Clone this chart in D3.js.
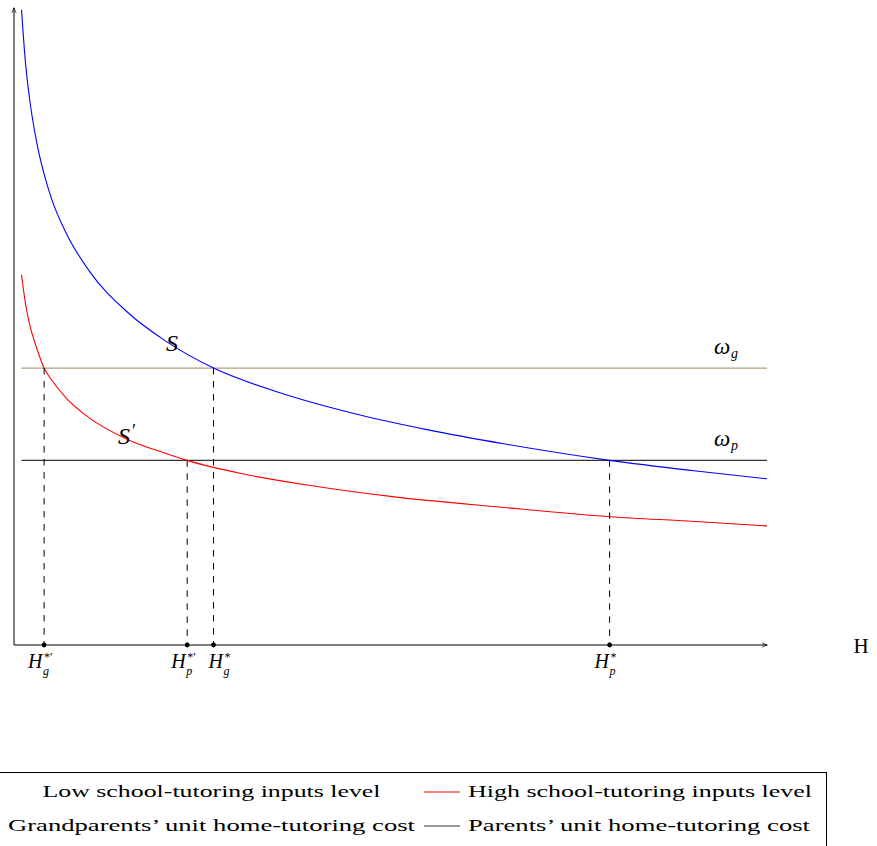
<!DOCTYPE html>
<html>
<head>
<meta charset="utf-8">
<script src="https://cdn.jsdelivr.net/npm/d3@7"></script>
<style>
  html, body { margin: 0; padding: 0; background: #fff; }
  svg { display: block; }
</style>
</head>
<body>
<svg id="chart" width="877" height="846"></svg>
<script>
// ---- data ----
const lowInputH = [0.10, 0.15, 0.20, 0.30, 0.40, 0.50, 0.70, 1.00, 1.50, 2.00, 2.65, 3.50, 4.50, 5.50, 6.50, 7.91, 9.00, 10.0];
const lowInputV = [6.88, 6.33, 5.96, 5.45, 5.10, 4.83, 4.45, 4.05, 3.61, 3.30, 3.00, 2.74, 2.51, 2.33, 2.18, 2.00, 1.89, 1.80];
const highInputH = [0.10, 0.15, 0.20, 0.30, 0.40, 0.50, 0.70, 1.00, 1.50, 2.00, 2.30, 3.00, 4.00, 5.00, 6.50, 7.91, 9.00, 10.0];
const highInputV = [4.01, 3.71, 3.50, 3.22, 3.00, 2.87, 2.67, 2.46, 2.23, 2.08, 2.00, 1.86, 1.72, 1.61, 1.49, 1.39, 1.34, 1.29];
const costLevels = [
  { name: "g", label: "Grandparents\u2019 unit home-tutoring cost", value: 3, color: "#b39d82" },
  { name: "p", label: "Parents\u2019 unit home-tutoring cost", value: 2, color: "#333333" }
];
const equilibria = [
  { sub: "g", sup: "*\u2032", H: 0.40, V: 3, dx: -16 },
  { sub: "p", sup: "*\u2032", H: 2.30, V: 2, dx: -16 },
  { sub: "g", sup: "*",      H: 2.65, V: 3, dx: -5 },
  { sub: "p", sup: "*",      H: 7.91, V: 2, dx: -15 }
];
const hDomain = [0, 10];
const vDomain = [0, 6.9];
const curveStart = 0.1;

// ---- layout ----
const svg = d3.select("#chart");
const x = d3.scaleLinear().domain(hDomain).range([14, 767]);
const y = d3.scaleLinear().domain(vDomain).range([645, 8]);
const mathFont = "'Liberation Serif', 'DejaVu Serif', serif";

const defs = svg.append("defs");
defs.append("marker").attr("id", "arrow")
  .attr("viewBox", "0 0 10 10").attr("refX", 9).attr("refY", 5)
  .attr("markerWidth", 6).attr("markerHeight", 6).attr("orient", "auto")
  .append("path").attr("d", "M1,1.5 Q5,4 9.5,5 Q5,6 1,8.5")
  .attr("fill", "none").attr("stroke", "#000").attr("stroke-width", 1.3);

// axes
svg.append("line").attr("x1", x(0)).attr("y1", y(0)).attr("x2", x(0)).attr("y2", y(vDomain[1]))
  .attr("stroke", "#000").attr("stroke-width", 1).attr("marker-end", "url(#arrow)");
svg.append("line").attr("x1", x(0)).attr("y1", y(0)).attr("x2", x(hDomain[1])).attr("y2", y(0))
  .attr("stroke", "#000").attr("stroke-width", 1).attr("marker-end", "url(#arrow)");

// horizontal cost lines
svg.selectAll("line.cost").data(costLevels).enter().append("line").attr("class", "cost")
  .attr("x1", x(curveStart)).attr("x2", x(hDomain[1]))
  .attr("y1", d => y(d.value)).attr("y2", d => y(d.value))
  .attr("stroke", d => d.color).attr("stroke-width", 1.3);

// curves
const line = d3.line().x(d => x(d[0])).y(d => y(d[1])).curve(d3.curveMonotoneX);
svg.append("path").datum(d3.zip(lowInputH, lowInputV)).attr("d", line)
  .attr("fill", "none").attr("stroke", "#0000ff").attr("stroke-width", 1.1);
svg.append("path").datum(d3.zip(highInputH, highInputV)).attr("d", line)
  .attr("fill", "none").attr("stroke", "#ff0000").attr("stroke-width", 1.1);

// dashed drop lines & points
svg.selectAll("line.drop").data(equilibria).enter().append("line").attr("class", "drop")
  .attr("x1", d => x(d.H)).attr("x2", d => x(d.H))
  .attr("y1", d => y(d.V)).attr("y2", y(0))
  .attr("stroke", "#000").attr("stroke-width", 1).attr("stroke-dasharray", "6.5,6.5");
svg.selectAll("circle.pt").data(equilibria).enter().append("circle").attr("class", "pt")
  .attr("cx", d => x(d.H)).attr("cy", y(0)).attr("r", 2.4).attr("fill", "#000");

// equilibrium labels: H with superscript and subscript
equilibria.forEach(d => {
  const x0 = x(d.H) + d.dx;
  svg.append("text").attr("x", x0).attr("y", 668)
    .attr("font-family", mathFont).attr("font-style", "italic").attr("font-size", 20).text("H");
  svg.append("text").attr("x", x0 + 16).attr("y", 661)
    .attr("font-family", mathFont).attr("font-size", 12).text(d.sup);
  svg.append("text").attr("x", x0 + 15).attr("y", 675)
    .attr("font-family", mathFont).attr("font-style", "italic").attr("font-size", 12).text(d.sub);
});

// curve labels
svg.append("text").attr("x", 172).attr("y", 351).attr("text-anchor", "middle")
  .attr("font-family", mathFont).attr("font-style", "italic").attr("font-size", 24).text("S");
svg.append("text").attr("x", 118).attr("y", 444)
  .attr("font-family", mathFont).attr("font-style", "italic").attr("font-size", 24).text("S");
svg.append("text").attr("x", 132).attr("y", 437)
  .attr("font-family", mathFont).attr("font-size", 18).text("\u2032");

// omega labels
costLevels.forEach(d => {
  svg.append("text").attr("x", 714).attr("y", y(d.value) - 14)
    .attr("font-family", mathFont).attr("font-style", "italic").attr("font-size", 23).text("\u03c9");
  svg.append("text").attr("x", 731).attr("y", y(d.value) - 10)
    .attr("font-family", mathFont).attr("font-style", "italic").attr("font-size", 14).text(d.name);
});

// axis title
svg.append("text").attr("x", 861).attr("y", 653).attr("text-anchor", "middle")
  .attr("font-family", mathFont).attr("font-size", 21).text("H");

// legend
const legendFont = "'Liberation Serif', 'DejaVu Serif', serif";
svg.append("rect").attr("x", -5).attr("y", 772.5).attr("width", 831.5).attr("height", 100)
  .attr("fill", "#fff").attr("stroke", "#000").attr("stroke-width", 1);
const legendRows = [
  { left: "Low school-tutoring inputs level", leftW: 338, right: "High school-tutoring inputs level", rightW: 344, color: "#ff0000", cy: 792 },
  { left: costLevels[0].label, leftW: 407, right: costLevels[1].label, rightW: 342, color: "#333333", cy: 826 }
];
legendRows.forEach(r => {
  svg.append("text").attr("x", 211.5).attr("y", r.cy + 5).attr("text-anchor", "middle")
    .attr("font-family", legendFont).attr("font-size", 17)
    .attr("textLength", r.leftW).attr("lengthAdjust", "spacingAndGlyphs").text(r.left);
  svg.append("line").attr("x1", 424).attr("x2", 460).attr("y1", r.cy).attr("y2", r.cy)
    .attr("stroke", r.color).attr("stroke-width", 1.2);
  svg.append("text").attr("x", 468).attr("y", r.cy + 5)
    .attr("font-family", legendFont).attr("font-size", 17)
    .attr("textLength", r.rightW).attr("lengthAdjust", "spacingAndGlyphs").text(r.right);
});
</script>
</body>
</html>
